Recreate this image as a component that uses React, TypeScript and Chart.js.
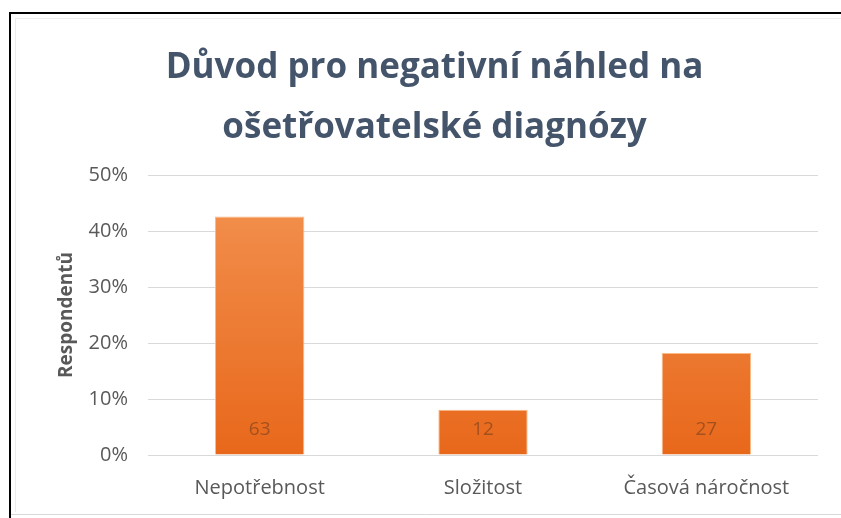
import React, { useEffect, useRef } from "react";
import { Chart, registerables } from "chart.js";

Chart.register(...registerables);

const categories = ["Nepotřebnost", "Složitost", "Časová náročnost"];
const percentValues = [42.6, 8.1, 18.2];
const respondentCounts = ["63", "12", "27"];
const yTickValues = [0, 10, 20, 30, 40, 50];
const titleLines = ["Důvod pro negativní náhled na", "ošetřovatelské diagnózy"];
const yAxisTitle = "Respondentů";

const frame = {
  id: "frame",
  beforeDraw(chart: any) {
    const { ctx, width, height } = chart;
    ctx.save();
    ctx.fillStyle = "#fff";
    ctx.fillRect(0, 0, width, height);
    ctx.strokeStyle = "#ececec";
    ctx.lineWidth = 1;
    ctx.beginPath();
    ctx.moveTo(15.5, height - 6);
    ctx.lineTo(15.5, 18.5);
    ctx.lineTo(width, 18.5);
    ctx.stroke();
    ctx.strokeStyle = "#d8d8d8";
    ctx.beginPath();
    ctx.moveTo(10, 514.5);
    ctx.lineTo(width, 514.5);
    ctx.stroke();
    ctx.strokeStyle = "#000";
    ctx.lineWidth = 2;
    ctx.beginPath();
    ctx.moveTo(10, height);
    ctx.lineTo(10, 13);
    ctx.lineTo(width, 13);
    ctx.stroke();
    ctx.restore();
  },
};

const countLabels = {
  id: "countLabels",
  afterDatasetsDraw(chart: any) {
    const { ctx } = chart;
    const meta = chart.getDatasetMeta(0);
    const yScale = chart.scales.y;
    ctx.save();
    ctx.font = "19px 'Open Sans'";
    ctx.fillStyle = "#a3501e";
    ctx.textAlign = "center";
    ctx.textBaseline = "middle";
    meta.data.forEach((bar: any, i: number) => {
      const base = yScale.getPixelForValue(0);
      ctx.fillText(respondentCounts[i], bar.x, base - 25);
    });
    ctx.restore();
  },
};

export default function App() {
  const ref = useRef<HTMLCanvasElement>(null);
  useEffect(() => {
    if (!ref.current) return;
    const chart = new Chart(ref.current, {
      type: "bar",
      data: {
        labels: categories,
        datasets: [
          {
            data: percentValues,
            backgroundColor: (c: any) => {
              const { chart } = c;
              const area = chart.chartArea;
              if (!area) return "#ED7D31";
              const g = chart.ctx.createLinearGradient(0, area.top, 0, area.bottom);
              g.addColorStop(0, "#f39352");
              g.addColorStop(1, "#e8681b");
              return g;
            },
            borderColor: "rgba(248,178,120,0.9)",
            borderWidth: 1,
            borderSkipped: "bottom",
            barPercentage: 0.4,
            categoryPercentage: 1,
          },
        ],
      },
      options: {
        responsive: false,
        animation: false,
        layout: { padding: { top: 38, left: 51, right: 23, bottom: 13 } },
        plugins: {
          legend: { display: false },
          tooltip: { enabled: false },
          title: {
            display: true,
            text: titleLines,
            color: "#44546A",
            font: { family: "'Open Sans'", size: 35, weight: "bold", lineHeight: 60 / 35 },
            padding: { top: 0, bottom: 17 },
          },
        },
        scales: {
          x: {
            grid: { display: false, drawTicks: false },
            border: { display: false },
            ticks: { color: "#595959", font: { family: "'Open Sans'", size: 20 }, padding: 21 },
            afterFit: (s: any) => { s.height = 50; },
          },
          y: {
            min: 0,
            max: 50,
            afterBuildTicks: (s: any) => { s.ticks = yTickValues.map((v) => ({ value: v })); },
            grid: { color: "#d9d9d9", lineWidth: 1, drawTicks: false },
            border: { display: false },
            ticks: {
              color: "#595959",
              font: { family: "'Open Sans'", size: 20 },
              padding: 20,
              callback: (v: any) => v + "%",
            },
            title: {
              display: true,
              text: yAxisTitle,
              color: "#595959",
              font: { family: "'Open Sans'", size: 19, weight: "bold" },
              padding: 4,
            },
            afterFit: (s: any) => { s.width = 97; },
          },
        },
      },
      plugins: [frame, countLabels],
    });
    return () => chart.destroy();
  }, []);

  return (
    <div style={{ position: "fixed", left: 0, top: 0, width: 841, height: 518, background: "#fff", overflow: "hidden" }}>
      <canvas ref={ref} width={841} height={518} style={{ display: "block" }} />
    </div>
  );
}
